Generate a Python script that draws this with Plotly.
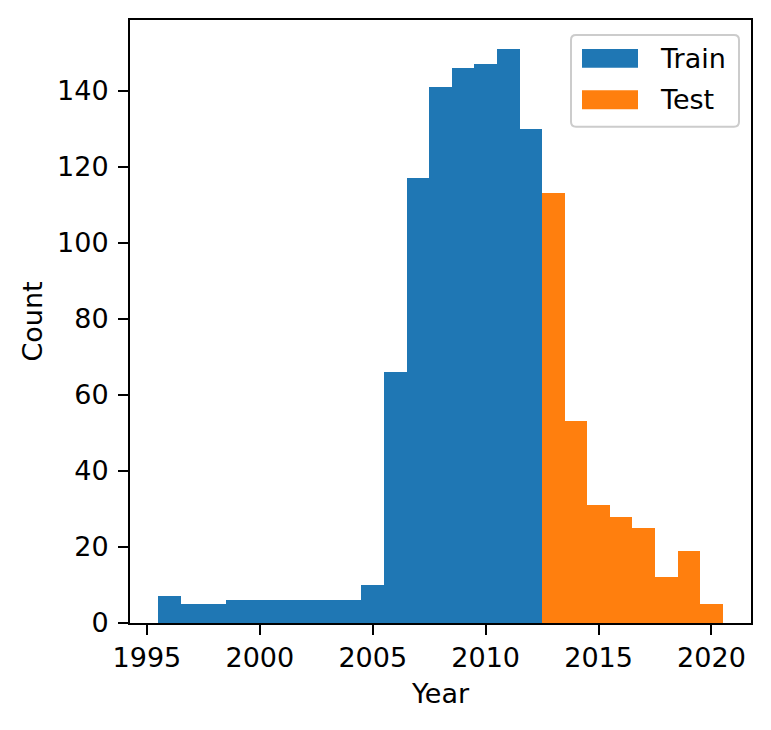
import plotly.graph_objects as go

train_years = [1996, 1997, 1998, 1999, 2000, 2001, 2002, 2003, 2004, 2005,
               2006, 2007, 2008, 2009, 2010, 2011, 2012]
train_counts = [7, 5, 5, 6, 6, 6, 6, 6, 6, 10, 66, 117, 141, 146, 147, 151, 130]
test_years = [2013, 2014, 2015, 2016, 2017, 2018, 2019, 2020]
test_counts = [113, 53, 31, 28, 25, 12, 19, 5]
x_ticks = [1995, 2000, 2005, 2010, 2015, 2020]
y_ticks = [0, 20, 40, 60, 80, 100, 120, 140]
series_names = ["Train", "Test"]
series_colors = ["#1f77b4", "#ff7f0e"]

FONT = "DejaVu Sans"
FS = 27

# page has an 8px body margin; plot area in page pixels: x 130..751, y 18..623
PX_L, PX_R, PX_T, PX_B = 130, 751, 18, 623


def px2paper(px, py):
    return (px - PX_L) / (PX_R - PX_L), (PX_B - py) / (PX_B - PX_T)


fig = go.Figure()
fig.add_trace(go.Bar(x=train_years, y=train_counts, width=1, name=series_names[0],
                     showlegend=False,
                     marker=dict(color=series_colors[0], line=dict(width=0))))
fig.add_trace(go.Bar(x=test_years, y=test_counts, width=1, name=series_names[1],
                     showlegend=False,
                     marker=dict(color=series_colors[1], line=dict(width=0))))

axis_common = dict(showline=True, mirror=True, linecolor="black", linewidth=2,
                   ticks="outside", ticklen=10, tickwidth=2, tickcolor="black",
                   showgrid=False, zeroline=False,
                   tickfont=dict(family=FONT, size=FS, color="black"))

# legend drawn as a matplotlib-style box with patch handles
shapes = []
annotations = []
bx0, by0 = px2paper(571, 125)
bx1, by1 = px2paper(739, 33)
r = 5
rx = r / (PX_R - PX_L)
ry = r / (PX_B - PX_T)
path = (f"M {bx0+rx},{by1} L {bx1-rx},{by1} Q {bx1},{by1} {bx1},{by1-ry} "
        f"L {bx1},{by0+ry} Q {bx1},{by0} {bx1-rx},{by0} "
        f"L {bx0+rx},{by0} Q {bx0},{by0} {bx0},{by0+ry} "
        f"L {bx0},{by1-ry} Q {bx0},{by1} {bx0+rx},{by1} Z")
shapes.append(dict(type="path", xref="paper", yref="paper", path=path,
                   fillcolor="rgba(255,255,255,0.8)", line=dict(color="#cccccc", width=2)))
for i, (name, col) in enumerate(zip(series_names, series_colors)):
    cy = 56.5 + 41.5 * i
    hx0, hy0 = px2paper(582, cy + 9.5)
    hx1, hy1 = px2paper(638, cy - 9.5)
    shapes.append(dict(type="rect", xref="paper", yref="paper", x0=hx0, y0=hy0,
                       x1=hx1, y1=hy1, fillcolor=col, line=dict(width=0)))
    tx, ty = px2paper(658, cy)
    annotations.append(dict(xref="paper", yref="paper", x=tx, y=ty, text=name,
                            showarrow=False, xanchor="left", yanchor="middle",
                            font=dict(family=FONT, size=FS, color="black")))

fig.update_layout(
    width=763, height=722,
    margin=dict(l=PX_L - 8, r=771 - PX_R, t=PX_T - 8, b=730 - PX_B),
    paper_bgcolor="white", plot_bgcolor="white",
    bargap=0, barmode="overlay",
    font=dict(family=FONT, size=FS, color="black"),
    xaxis=dict(range=[1994.25, 2021.75], tickvals=x_ticks, ticklabelstandoff=0,
               title=dict(text="Year", font=dict(family=FONT, size=FS), standoff=12),
               **axis_common),
    yaxis=dict(range=[0, 158.55], tickvals=y_ticks, ticklabelstandoff=4,
               title=dict(text="Count", font=dict(family=FONT, size=FS), standoff=7),
               **axis_common),
    shapes=shapes,
    annotations=annotations,
    showlegend=False,
)

fig.write_html("out.html")
